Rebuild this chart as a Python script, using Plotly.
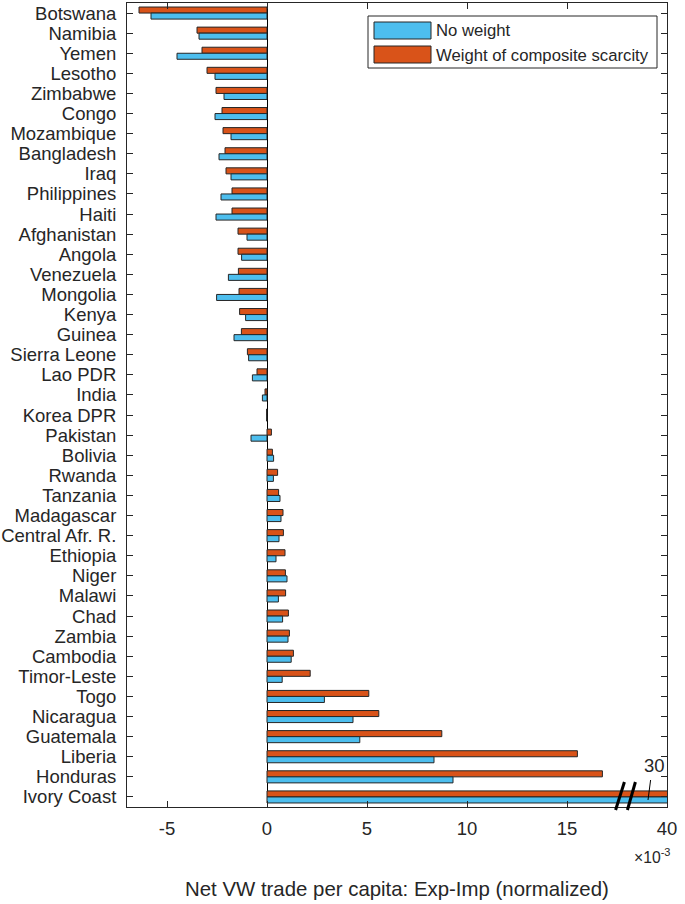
import plotly.graph_objects as go

countries = ["Botswana", "Namibia", "Yemen", "Lesotho", "Zimbabwe", "Congo", "Mozambique",
             "Bangladesh", "Iraq", "Philippines", "Haiti", "Afghanistan", "Angola", "Venezuela",
             "Mongolia", "Kenya", "Guinea", "Sierra Leone", "Lao PDR", "India", "Korea DPR",
             "Pakistan", "Bolivia", "Rwanda", "Tanzania", "Madagascar", "Central Afr. R.",
             "Ethiopia", "Niger", "Malawi", "Chad", "Zambia", "Cambodia", "Timor-Leste", "Togo",
             "Nicaragua", "Guatemala", "Liberia", "Honduras", "Ivory Coast"]

no_weight = [-5.8, -3.4, -4.5, -2.6, -2.15, -2.6, -1.8, -2.4, -1.8, -2.3, -2.55, -1.0, -1.27,
             -1.93, -2.52, -1.07, -1.65, -0.92, -0.73, -0.23, -0.02, -0.8, 0.33, 0.32, 0.65,
             0.7, 0.6, 0.45, 1.0, 0.57, 0.78, 1.05, 1.21, 0.76, 2.87, 4.30, 4.64, 8.35, 9.30, 30.0]

composite = [-6.4, -3.5, -3.25, -3.0, -2.55, -2.25, -2.2, -2.1, -2.05, -1.75, -1.75, -1.45, -1.45,
             -1.43, -1.4, -1.37, -1.28, -0.98, -0.5, -0.1, -0.02, 0.22, 0.27, 0.53, 0.58,
             0.8, 0.82, 0.9, 0.92, 0.93, 1.07, 1.12, 1.32, 2.16, 5.09, 5.59, 8.74, 15.52, 16.77, 30.0]

x_tickvals = [-5, 0, 5, 10, 15, 20]
x_ticktext = ["-5", "0", "5", "10", "15", "40"]

BLUE = "#4DBEEE"
ORANGE = "#D95319"
EDGE = "#262626"
FONT = "Liberation Sans, Arial, Helvetica, sans-serif"
AX_FS = 18.5
LEG_FS = 16.7
TITLE_FS = 20.4

fig = go.Figure()
fig.add_trace(go.Bar(y=countries, x=composite, orientation="h", name="Weight of composite scarcity",
                     marker=dict(color=ORANGE, line=dict(color=EDGE, width=1)), showlegend=False))
fig.add_trace(go.Bar(y=countries, x=no_weight, orientation="h", name="No weight",
                     marker=dict(color=BLUE, line=dict(color=EDGE, width=1)), showlegend=False))

L, R, T, B = 127, 18, 3, 97
W, H = 685, 904
pw, ph = W - L - R, H - T - B

def px(xp):
    return (xp - L) / pw

def py(yp):
    return (T + ph - yp) / ph

shapes = []
annotations = []

# legend (manual, matching MATLAB look)
shapes.append(dict(type="rect", xref="paper", yref="paper", x0=px(368), x1=px(657), y0=py(68), y1=py(16),
                   fillcolor="white", line=dict(color=EDGE, width=1), layer="above"))
shapes.append(dict(type="rect", xref="paper", yref="paper", x0=px(374), x1=px(431), y0=py(39), y1=py(22),
                   fillcolor=BLUE, line=dict(color=EDGE, width=1), layer="above"))
shapes.append(dict(type="rect", xref="paper", yref="paper", x0=px(374), x1=px(431), y0=py(63), y1=py(46),
                   fillcolor=ORANGE, line=dict(color=EDGE, width=1), layer="above"))
annotations.append(dict(text="No weight", xref="paper", yref="paper", x=px(434), y=py(31),
                        xanchor="left", yanchor="middle", showarrow=False,
                        font=dict(size=LEG_FS, color=EDGE, family=FONT)))
annotations.append(dict(text="Weight of composite scarcity", xref="paper", yref="paper", x=px(434), y=py(55),
                        xanchor="left", yanchor="middle", showarrow=False,
                        font=dict(size=LEG_FS, color=EDGE, family=FONT)))

# axis break marks
for x_bot, x_top in [(17.43, 17.87), (18.02, 18.42)]:
    shapes.append(dict(type="line", xref="x", yref="paper", x0=x_bot, x1=x_top, y0=py(810), y1=py(782),
                       line=dict(color="black", width=3), layer="above"))
# 30 pointer
shapes.append(dict(type="line", xref="x", yref="paper", x0=19.18, x1=19.05, y0=py(780), y1=py(800),
                   line=dict(color="black", width=1), layer="above"))
annotations.append(dict(text="30", xref="x", yref="paper", x=19.35, y=py(765), xanchor="center",
                        yanchor="middle", showarrow=False, font=dict(size=AX_FS, color=EDGE, family=FONT)))

# exponent and axis title
annotations.append(dict(text="×10<sup>-3</sup>", xref="paper", yref="paper", x=px(672), y=py(856),
                        xanchor="right", yanchor="middle", showarrow=False,
                        font=dict(size=AX_FS * 0.85, color=EDGE, family=FONT)))
annotations.append(dict(text="Net VW trade per capita: Exp-Imp (normalized)", xref="paper", yref="paper",
                        x=0.5, y=py(889), xanchor="center", yanchor="middle", showarrow=False,
                        font=dict(size=TITLE_FS, color=EDGE, family=FONT)))

fig.update_layout(
    width=W, height=H,
    margin=dict(l=L, r=R, t=T, b=B, autoexpand=False),
    paper_bgcolor="white", plot_bgcolor="white",
    barmode="group", bargap=0.4, bargroupgap=0,
    font=dict(family=FONT, size=AX_FS, color=EDGE),
    shapes=shapes, annotations=annotations,
)
fig.update_xaxes(range=[-7, 20], tickmode="array", tickvals=x_tickvals, ticktext=x_ticktext,
                 ticks="inside", ticklen=6, tickcolor=EDGE, tickwidth=1,
                 showline=True, linecolor=EDGE, linewidth=1, mirror="ticks",
                 showgrid=False, zeroline=True, zerolinecolor="black", zerolinewidth=1,
                 tickfont=dict(size=AX_FS, color=EDGE, family=FONT), ticklabelstandoff=5)
fig.update_yaxes(categoryorder="array", categoryarray=countries, range=[len(countries) - 0.5, -0.5],
                 tickmode="array", tickvals=countries, ticktext=countries,
                 ticks="inside", ticklen=6, tickcolor=EDGE, tickwidth=1,
                 showline=True, linecolor=EDGE, linewidth=1, mirror="ticks",
                 showgrid=False, tickfont=dict(size=AX_FS, color=EDGE, family=FONT), ticklabelstandoff=6)

fig.write_html("out.html", config={"displayModeBar": False},
               post_script="document.body.style.margin='0px';")
